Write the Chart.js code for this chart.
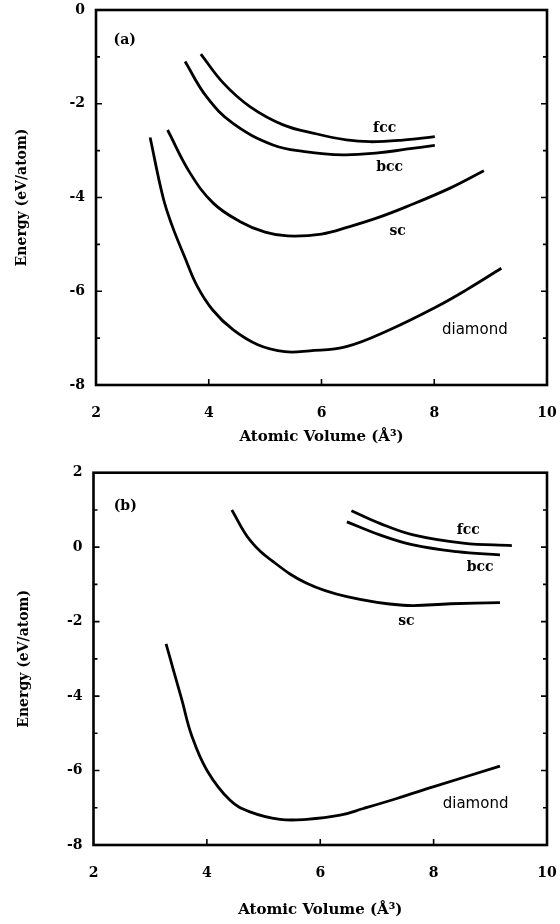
<!DOCTYPE html>
<html>
<head>
<meta charset="utf-8">
<script src="https://cdn.jsdelivr.net/npm/chart.js@4.4.0/dist/chart.umd.min.js"></script>
<style>
  html, body { margin: 0; padding: 0; background: #fff; }
  canvas { display: block; }
</style>
</head>
<body>
<canvas id="chartA" width="560" height="462"></canvas>
<canvas id="chartB" width="560" height="462"></canvas>
<script>
// panel (a)
const aFccX = [3.86, 4.26, 4.73, 5.32, 5.9, 6.44, 6.86, 7.4, 8.01];
const aFccY = [-0.94, -1.56, -2.06, -2.45, -2.64, -2.77, -2.81, -2.78, -2.70];
const aBccX = [3.58, 3.96, 4.43, 5.14, 5.7, 6.38, 7.0, 7.5, 8.01];
const aBccY = [-1.10, -1.85, -2.42, -2.88, -3.02, -3.09, -3.05, -2.97, -2.89];
const aScX = [3.27, 3.67, 4.08, 4.55, 5.0, 5.4, 6.0, 6.5, 7.0, 7.5, 8.28, 8.88];
const aScY = [-2.56, -3.48, -4.12, -4.51, -4.74, -4.82, -4.78, -4.62, -4.43, -4.2, -3.8, -3.43];
const aDiaX = [2.96, 3.19, 3.35, 3.58, 3.79, 4.07, 4.43, 4.87, 5.35, 5.79, 6.44, 7.21, 8.04, 8.57, 9.19];
const aDiaY = [-2.72, -4.0, -4.6, -5.29, -5.88, -6.40, -6.82, -7.14, -7.29, -7.27, -7.18, -6.82, -6.33, -5.97, -5.51];

// panel (b)
const bFccX = [6.55, 7.05, 7.64, 8.52, 9.38];
const bFccY = [0.98, 0.64, 0.33, 0.11, 0.04];
const bBccX = [6.47, 7.05, 7.64, 8.41, 9.17];
const bBccY = [0.68, 0.33, 0.06, -0.12, -0.21];
const bScX = [4.44, 4.76, 5.17, 5.76, 6.47, 7.46, 8.3, 9.17];
const bScY = [1.0, 0.19, -0.39, -0.97, -1.33, -1.56, -1.52, -1.49];
const bDiaX = [3.28, 3.41, 3.56, 3.73, 4.0, 4.41, 4.76, 5.29, 5.76, 6.35, 6.76, 7.35, 7.99, 9.17];
const bDiaY = [-2.60, -3.30, -4.11, -5.05, -5.99, -6.80, -7.11, -7.31, -7.31, -7.20, -7.02, -6.75, -6.44, -5.88];

const xMin = 2, xMax = 10;
const aYMin = -8, aYMax = 0;
const bYMin = -8, bYMax = 2;

// curve labels, in data coordinates
const aLabels = [
  { text: '(a)', x: 2.51, y: -0.64 },
  { text: 'fcc', x: 7.12, y: -2.52 },
  { text: 'bcc', x: 7.21, y: -3.35 },
  { text: 'sc', x: 7.35, y: -4.73 },
  { text: 'diamond', x: 8.72, y: -6.82, sans: true }
];
const bLabels = [
  { text: '(b)', x: 2.56, y: 1.09 },
  { text: 'fcc', x: 8.61, y: 0.46 },
  { text: 'bcc', x: 8.82, y: -0.54 },
  { text: 'sc', x: 7.52, y: -1.99 },
  { text: 'diamond', x: 8.74, y: -6.89, sans: true }
];

const serif = '"DejaVu Serif", serif';

function pts(xs, ys) {
  return xs.map((x, i) => ({ x: x, y: ys[i] }));
}

function curve(xs, ys) {
  return {
    data: pts(xs, ys),
    showLine: true,
    borderColor: '#000',
    borderWidth: 2.8,
    pointRadius: 0,
    tension: 0.4,
    fill: false
  };
}

// frame, inward ticks and curve labels
const framePlugin = {
  id: 'frame',
  afterDraw(chart, args, opts) {
    const { ctx, chartArea: a, scales: { x, y } } = chart;
    ctx.save();
    ctx.strokeStyle = '#000';
    ctx.lineWidth = 1.6;
    ctx.beginPath();
    y.ticks.forEach(t => {
      const py = y.getPixelForValue(t.value);
      if (py < a.top + 2 || py > a.bottom - 2) return;
      const len = t.value % 2 === 0 ? 6 : 4;
      ctx.moveTo(a.left, py); ctx.lineTo(a.left + len, py);
      ctx.moveTo(a.right, py); ctx.lineTo(a.right - len, py);
    });
    x.ticks.forEach(t => {
      const px = x.getPixelForValue(t.value);
      if (px < a.left + 2 || px > a.right - 2) return;
      ctx.moveTo(px, a.bottom); ctx.lineTo(px, a.bottom - 6);
    });
    ctx.stroke();

    ctx.lineWidth = 2.6;
    ctx.strokeRect(a.left, a.top, a.right - a.left, a.bottom - a.top);

    ctx.fillStyle = '#000';
    ctx.textAlign = 'center';
    ctx.textBaseline = 'middle';
    (opts.labels || []).forEach(l => {
      ctx.font = l.sans ? '15px "DejaVu Sans", sans-serif' : 'bold 14px ' + serif;
      ctx.fillText(l.text, x.getPixelForValue(l.x), y.getPixelForValue(l.y));
    });
    ctx.restore();
  }
};

function makeChart(id, datasets, yMin, yMax, labels, box) {
  return new Chart(document.getElementById(id), {
    type: 'scatter',
    data: { datasets: datasets },
    plugins: [framePlugin],
    options: {
      responsive: false,
      devicePixelRatio: 1,
      animation: false,
      events: [],
      layout: { padding: { top: box.top, right: 13, left: 0, bottom: 0 } },
      plugins: {
        legend: { display: false },
        tooltip: { enabled: false },
        frame: { labels: labels }
      },
      scales: {
        x: {
          min: xMin, max: xMax,
          grid: { display: false },
          border: { display: false },
          ticks: {
            stepSize: 2, color: '#000', padding: 12,
            font: { family: serif, size: 14, weight: 'bold' }
          },
          title: {
            display: true, text: 'Atomic Volume (Å³)', color: '#000',
            font: { family: serif, size: 15, weight: 'bold' },
            padding: { top: 0, bottom: box.xTitlePad }
          },
          afterFit(scale) {
            scale.height = box.xHeight;
            scale.paddingLeft = 0;
            scale.paddingRight = 0;
          }
        },
        y: {
          min: yMin, max: yMax,
          grid: { display: false },
          border: { display: false },
          ticks: {
            stepSize: 1, color: '#000', padding: 3,
            font: { family: serif, size: 14, weight: 'bold' },
            callback: v => (v % 2 === 0 ? String(v) : '')
          },
          title: {
            display: true, text: 'Energy (eV/atom)', color: '#000',
            font: { family: serif, size: 14, weight: 'bold' },
            padding: { top: box.yTitlePad, bottom: 0 }
          },
          afterFit(scale) {
            scale.width = box.yWidth;
            scale.paddingTop = 0;
            scale.paddingBottom = 0;
          }
        }
      }
    }
  });
}

makeChart('chartA',
  [curve(aFccX, aFccY), curve(aBccX, aBccY), curve(aScX, aScY), curve(aDiaX, aDiaY)],
  aYMin, aYMax, aLabels,
  { top: 10, yWidth: 96, xHeight: 77, xTitlePad: 16, yTitlePad: 14 });

makeChart('chartB',
  [curve(bFccX, bFccY), curve(bBccX, bBccY), curve(bScX, bScY), curve(bDiaX, bDiaY)],
  bYMin, bYMax, bLabels,
  { top: 10.7, yWidth: 93.5, xHeight: 79, xTitlePad: 5, yTitlePad: 15.6 });
</script>
</body>
</html>
